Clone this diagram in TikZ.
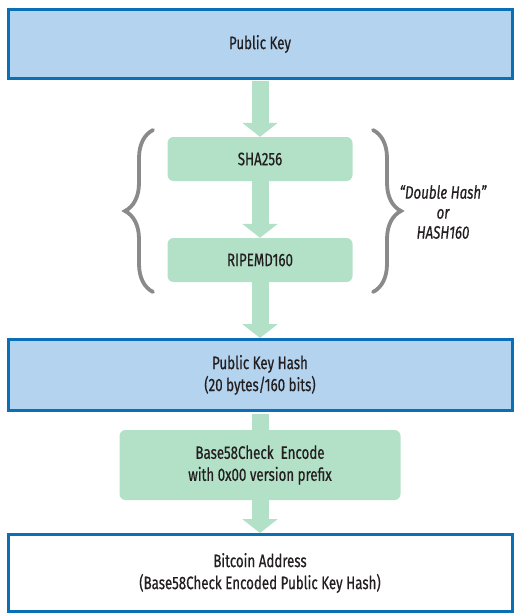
\documentclass[tikz,border=0pt]{standalone}
\usepackage{fontspec}
\setmainfont[FakeStretch=0.74,FakeBold=0.6]{Fira Sans}
\usetikzlibrary{arrows.meta,decorations.pathreplacing}
\definecolor{keyblue}{HTML}{B4D3EF}
\definecolor{keyedge}{HTML}{0B6FB6}
\definecolor{hashgreen}{HTML}{B3E1C8}
\definecolor{bracegray}{HTML}{8A8A8A}
\definecolor{ink}{HTML}{231F20}
\begin{document}
\begin{tikzpicture}[x=1pt,y=-1pt,
    bigbox/.style={draw=keyedge,line width=3pt,minimum width=504pt,align=center,text=ink,font=\fontsize{18}{22}\selectfont},
    hashbox/.style={fill=hashgreen,rounded corners=6pt,minimum width=185pt,minimum height=44pt,align=center,text=ink,font=\fontsize{18}{22}\selectfont},
    flow/.style={hashgreen,line width=17pt,shorten <=1.5pt,-{Triangle[width=35pt 0,length=14pt 0]}},
    hashbrace/.style={bracegray,line width=3.8pt,line cap=round,decorate,decoration={brace,amplitude=28pt}}]
    \useasboundingbox (0,0) rectangle (514,615);
    \node[bigbox,fill=keyblue,minimum height=69pt] (pk) at (260,44) {Public Key};
    \node[hashbox] (sha) at (260,159) {SHA256};
    \node[hashbox] (ripemd) at (260,260) {RIPEMD160};
    \node[bigbox,fill=keyblue,minimum height=71pt] (pkh) at (260,375) {Public Key Hash\\(20 bytes/160 bits)};
    \node[hashbox,minimum width=281pt,minimum height=70pt] (b58) at (260,465) {Base58Check\ \ Encode\\with 0x00 version prefix};
    \node[bigbox,fill=white,minimum height=77pt] (addr) at (260,573) {Bitcoin Address\\(Base58Check Encoded Public Key Hash)};
    \draw[flow] (pk) -- (sha);
    \draw[flow,shorten <=0pt] (sha) -- (ripemd);
    \draw[flow,shorten <=0pt] (ripemd) -- (pkh);
    \draw[hashgreen,line width=17pt,shorten <=1.5pt] (pkh) -- (b58);
    \draw[flow,shorten <=0pt] (b58) -- (addr);
    \draw[hashbrace] (153,292) -- (153,130);
    \draw[hashbrace] (373,130) -- (373,292);
    \node[align=center,text=ink,font=\fontsize{18}{20}\selectfont\itshape] (dbl) at (443,212) {“Double Hash”\\or\\HASH160};
\end{tikzpicture}
\end{document}
